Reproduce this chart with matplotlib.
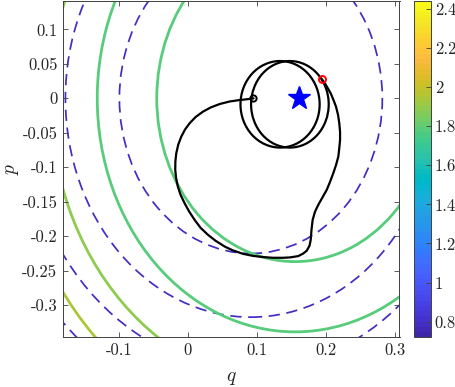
import numpy as np
import matplotlib
matplotlib.use("Agg")
import matplotlib.pyplot as plt
from matplotlib.colors import ListedColormap, Normalize
from matplotlib.patches import Ellipse
from matplotlib.cm import ScalarMappable

# ---------------------------------------------------------------- data
x_ticks = [-0.1, 0, 0.1, 0.2, 0.3]
x_tick_labels = ['-0.1', '0', '0.1', '0.2', '0.3']
y_ticks = [-0.3, -0.25, -0.2, -0.15, -0.1, -0.05, 0, 0.05, 0.1]
y_tick_labels = ['-0.3', '-0.25', '-0.2', '-0.15', '-0.1', '-0.05', '0', '0.05', '0.1']
cbar_ticks = [0.8, 1.0, 1.2, 1.4, 1.6, 1.8, 2.0, 2.2, 2.4]
cbar_tick_labels = ['0.8', '1', '1.2', '1.4', '1.6', '1.8', '2', '2.2', '2.4']
cbar_range = (0.72, 2.44)
x_range = (-0.1805, 0.3058)
y_range = (-0.3468, 0.1412)

# level rings (elliptic, taller than wide)
ring_aspect = 1.185
dash_center = (0.091, 0.0)
dash_radii = [0.190, 0.268, 0.332, 0.386]
dash_values = [0.80, 0.80, 0.80, 0.80]
green_center = (0.155, 0.0)
green_radii = [0.200, 0.286, 0.3535, 0.411]
green_values = [1.78, 1.78, 1.90, 1.93]

# the two loops around the equilibrium
loop_q = [0.1332, 0.1474]
loop_p = [-0.0087, -0.0087]
loop_half_w = [0.0572, 0.0561]
loop_half_h = [0.0628, 0.0628]

# excursion: from the switch point (red) back to the start point (black)
arc_q = [0.1933, 0.1981, 0.2064, 0.2104, 0.2141, 0.2170, 0.2188, 0.2199, 0.2199, 0.2188,
         0.2174, 0.2141, 0.2101, 0.2054, 0.2006, 0.1945, 0.1884, 0.1836, 0.1803, 0.1786,
         0.1775, 0.1757, 0.1716, 0.1667, 0.1594, 0.1474, 0.1377, 0.1228, 0.1087, 0.0938,
         0.0797, 0.0648, 0.0532, 0.0401, 0.0290, 0.0184, 0.0097, 0.0017, -0.0048, -0.0106,
         -0.0145, -0.0171, -0.0183, -0.0181, -0.0168, -0.0139, -0.0096, -0.0041, 0.0025, 0.0112,
         0.0217, 0.0329, 0.0459, 0.0604, 0.0749, 0.0851, 0.0948]
arc_p = [0.0280, 0.0217, 0.0072, -0.0025, -0.0122, -0.0242, -0.0362, -0.0488, -0.0604, -0.0720,
         -0.0846, -0.0967, -0.1087, -0.1213, -0.1329, -0.1438, -0.1546, -0.1648, -0.1764, -0.1909,
         -0.2054, -0.2141, -0.2213, -0.2252, -0.2290, -0.2309, -0.2314, -0.2314, -0.2304, -0.2286,
         -0.2257, -0.2206, -0.2151, -0.2068, -0.1981, -0.1880, -0.1764, -0.1641, -0.1522, -0.1401,
         -0.1281, -0.1155, -0.1039, -0.0916, -0.0797, -0.0670, -0.0557, -0.0452, -0.0362, -0.0271,
         -0.0194, -0.0133, -0.0083, -0.0046, -0.0025, -0.0014, 0.0000]

start_point = (0.0948, 0.0)
switch_point = (0.1938, 0.028)
equilibrium = (0.160, 0.0)

# MATLAB parula (64 entries)
parula_data = [
    [0.2422, 0.1504, 0.6603], [0.2504, 0.1650, 0.7076], [0.2578, 0.1818, 0.7511], [0.2647, 0.1978, 0.7952],
    [0.2706, 0.2147, 0.8364], [0.2751, 0.2342, 0.8710], [0.2783, 0.2559, 0.8991], [0.2803, 0.2782, 0.9221],
    [0.2813, 0.3006, 0.9414], [0.2810, 0.3228, 0.9579], [0.2795, 0.3447, 0.9717], [0.2760, 0.3667, 0.9829],
    [0.2699, 0.3892, 0.9906], [0.2602, 0.4123, 0.9952], [0.2440, 0.4358, 0.9988], [0.2206, 0.4603, 0.9973],
    [0.1963, 0.4847, 0.9892], [0.1834, 0.5074, 0.9798], [0.1786, 0.5289, 0.9682], [0.1764, 0.5499, 0.9520],
    [0.1687, 0.5703, 0.9359], [0.1540, 0.5902, 0.9218], [0.1460, 0.6091, 0.9079], [0.1380, 0.6276, 0.8973],
    [0.1248, 0.6459, 0.8883], [0.1113, 0.6635, 0.8763], [0.0952, 0.6798, 0.8598], [0.0689, 0.6948, 0.8394],
    [0.0297, 0.7082, 0.8163], [0.0036, 0.7203, 0.7917], [0.0067, 0.7312, 0.7660], [0.0433, 0.7411, 0.7394],
    [0.0964, 0.7500, 0.7120], [0.1408, 0.7584, 0.6842], [0.1717, 0.7670, 0.6554], [0.1938, 0.7758, 0.6251],
    [0.2161, 0.7843, 0.5923], [0.2470, 0.7918, 0.5567], [0.2906, 0.7973, 0.5188], [0.3406, 0.8008, 0.4789],
    [0.3909, 0.8029, 0.4354], [0.4456, 0.8024, 0.3909], [0.5044, 0.7993, 0.3480], [0.5616, 0.7942, 0.3045],
    [0.6174, 0.7876, 0.2612], [0.6720, 0.7793, 0.2227], [0.7242, 0.7698, 0.1910], [0.7738, 0.7598, 0.1646],
    [0.8203, 0.7498, 0.1535], [0.8634, 0.7406, 0.1596], [0.9035, 0.7330, 0.1774], [0.9393, 0.7288, 0.2100],
    [0.9728, 0.7298, 0.2394], [0.9956, 0.7434, 0.2371], [0.9970, 0.7659, 0.2199], [0.9952, 0.7893, 0.2028],
    [0.9892, 0.8136, 0.1885], [0.9786, 0.8386, 0.1766], [0.9676, 0.8639, 0.1643], [0.9610, 0.8890, 0.1537],
    [0.9597, 0.9135, 0.1423], [0.9628, 0.9373, 0.1265], [0.9691, 0.9606, 0.1064], [0.9769, 0.9839, 0.0805]]

# ---------------------------------------------------------------- style
plt.rcParams['font.family'] = 'cmr10'
plt.rcParams['mathtext.fontset'] = 'cm'
plt.rcParams['axes.unicode_minus'] = False
plt.rcParams['lines.dashed_pattern'] = [6.5, 3.8]

parula = ListedColormap(parula_data, name='parula')
norm = Normalize(*cbar_range)
axis_grey = '0.25'

fig = plt.figure(figsize=(4.56, 3.87), dpi=100)
ax = fig.add_axes([63 / 456, (387 - 337.3) / 387, 336.5 / 456, 336.3 / 387])

# level rings
for r, v in zip(dash_radii, dash_values):
    ax.add_patch(Ellipse(dash_center, 2 * r, 2 * r * ring_aspect, fill=False,
                         edgecolor=parula(norm(v)), lw=1.25, linestyle='--'))
for r, v in zip(green_radii, green_values):
    ax.add_patch(Ellipse(green_center, 2 * r, 2 * r * ring_aspect, fill=False,
                         edgecolor=parula(norm(v)), lw=2.0))

# trajectory
for cq, cp, hw, hh in zip(loop_q, loop_p, loop_half_w, loop_half_h):
    ax.add_patch(Ellipse((cq, cp), 2 * hw, 2 * hh, fill=False, edgecolor='k', lw=1.6))
ax.plot(arc_q, arc_p, color='k', lw=1.6, solid_capstyle='round')

ax.plot(*start_point, 'o', ms=4.5, mfc='none', mec='k', mew=1.4)
ax.plot(*switch_point, 'o', ms=5, mfc='none', mec='r', mew=1.4)
ax.plot(*equilibrium, '*', ms=17, color='b', mec='b')

ax.set_xlim(*x_range)
ax.set_ylim(*y_range)
ax.set_xticks(x_ticks)
ax.set_xticklabels(x_tick_labels)
ax.set_yticks(y_ticks)
ax.set_yticklabels(y_tick_labels)
ax.tick_params(direction='in', length=3.5, width=0.6, color=axis_grey, labelcolor='0.15',
               labelsize=12, top=True, right=True, pad=4)
for s in ax.spines.values():
    s.set_color(axis_grey)
    s.set_linewidth(0.7)

ax.set_xlabel('$q$', fontsize=14, color='0.15')
ax.set_ylabel('$p$', fontsize=14, color='0.15')
ax.xaxis.set_label_coords(0.5, -0.095)
ax.yaxis.set_label_coords(-0.125, 0.5)

# colorbar
cax = fig.add_axes([414.3 / 456, (387 - 337.3) / 387, 16.4 / 456, 336.3 / 387])
cb = fig.colorbar(ScalarMappable(norm=norm, cmap=parula), cax=cax)
cb.set_ticks(cbar_ticks)
cb.set_ticklabels(cbar_tick_labels)
cb.outline.set_edgecolor(axis_grey)
cb.outline.set_linewidth(0.7)
cax.tick_params(direction='in', length=3.5, width=0.6, color=axis_grey, labelcolor='0.15',
                labelsize=12, pad=3)

fig.savefig('out.png', dpi=100)
